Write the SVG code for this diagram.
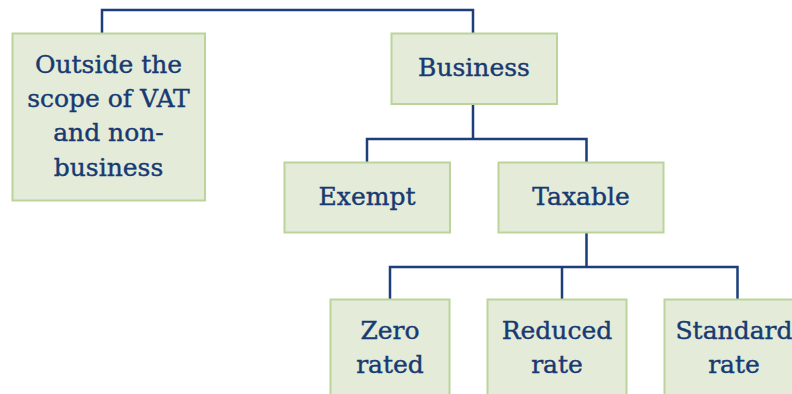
<svg xmlns="http://www.w3.org/2000/svg" width="792" height="394" viewBox="0 0 792 394">
  <style>
    .box { fill: #e4ebd8; stroke: #bcd49c; stroke-width: 2; }
    .lbl { font-family: "DejaVu Serif", "Liberation Serif", serif; font-size: 25px; fill: #173a72; stroke: #173a72; stroke-width: 0.4; text-anchor: middle; }
    .wire { fill: none; stroke: #1c3f7c; stroke-width: 2.5; }
  </style>
  <rect width="792" height="394" fill="#ffffff"/>

  <g id="connectors">
    <path class="wire" d="M102,33 V10 H473 V33"/>
    <path class="wire" d="M473,104 V139 M367,162 V139 H586.5 V162"/>
    <path class="wire" d="M586.5,232 V267 M390,299 V267 H737.5 V299 M562,267 V299"/>
  </g>

  <g id="outside">
    <rect class="box" x="12.5" y="33.5" width="192.5" height="167"/>
    <text class="lbl" x="108.5" y="73">Outside the</text>
    <text class="lbl" x="108.5" y="107">scope of VAT</text>
    <text class="lbl" x="108.5" y="141">and non-</text>
    <text class="lbl" x="108.5" y="176">business</text>
  </g>

  <g id="business">
    <rect class="box" x="391.5" y="33.5" width="165.5" height="70.5"/>
    <text class="lbl" x="474" y="76">Business</text>
  </g>

  <g id="exempt">
    <rect class="box" x="284.5" y="162.5" width="165.5" height="70"/>
    <text class="lbl" x="367" y="204.5">Exempt</text>
  </g>

  <g id="taxable">
    <rect class="box" x="498.5" y="162.5" width="165" height="70"/>
    <text class="lbl" x="581" y="204.5">Taxable</text>
  </g>

  <g id="zero">
    <rect class="box" x="330.5" y="299.5" width="119" height="100"/>
    <text class="lbl" x="390" y="339">Zero</text>
    <text class="lbl" x="390" y="372.5">rated</text>
  </g>

  <g id="reduced">
    <rect class="box" x="487.5" y="299.5" width="139" height="100"/>
    <text class="lbl" x="557" y="339">Reduced</text>
    <text class="lbl" x="557" y="372.5">rate</text>
  </g>

  <g id="standard">
    <rect class="box" x="664.5" y="299.5" width="140" height="100"/>
    <text class="lbl" x="734" y="339">Standard</text>
    <text class="lbl" x="734" y="372.5">rate</text>
  </g>
</svg>
